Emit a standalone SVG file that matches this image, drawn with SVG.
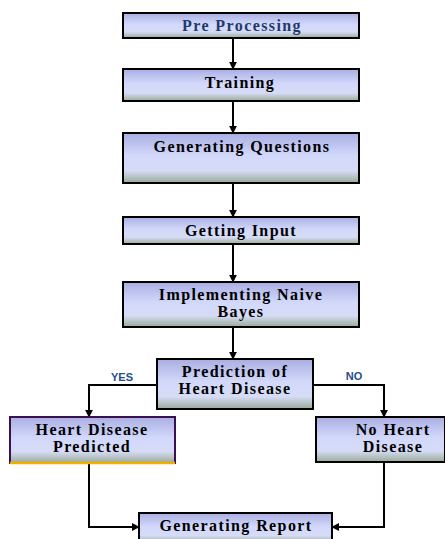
<svg xmlns="http://www.w3.org/2000/svg" width="445" height="539" viewBox="0 0 445 539">
<defs>
<linearGradient id="g" x1="0" y1="0" x2="0" y2="1">
<stop offset="0" stop-color="#a9aee2"/>
<stop offset="0.45" stop-color="#d2d8fa"/>
<stop offset="0.75" stop-color="#d6dcf6"/>
<stop offset="1" stop-color="#9aaa98"/>
</linearGradient>
<marker id="a" viewBox="0 0 10 10" refX="9" refY="5" markerWidth="4" markerHeight="4" orient="auto" markerUnits="strokeWidth">
<path d="M0,0 L10,5 L0,10 z" fill="#000"/>
</marker>
<style>
.box{fill:url(#g);stroke:#000;stroke-width:2}
.t{font-family:"Liberation Serif","Times New Roman",serif;font-weight:bold;font-size:16px;letter-spacing:1.4px;fill:#000;text-anchor:middle}
.lbl{font-family:"Liberation Sans",Arial,sans-serif;font-weight:bold;font-size:11px;fill:#1f4e8c;text-anchor:middle}
.c{fill:none;stroke:#000;stroke-width:2;marker-end:url(#a)}
</style>
</defs>
<rect width="445" height="539" fill="#fff"/>
<g id="connectors">
<line class="c" x1="233" y1="38" x2="233" y2="69"/>
<line class="c" x1="233" y1="101" x2="233" y2="133"/>
<line class="c" x1="233" y1="184" x2="233" y2="217"/>
<line class="c" x1="233" y1="245" x2="233" y2="282"/>
<line class="c" x1="233" y1="328" x2="233" y2="359"/>
<polyline class="c" points="157,385 89,385 89,417"/>
<polyline class="c" points="313,385 384,385 384,417"/>
<polyline class="c" points="89,463 89,527 139,527"/>
<polyline class="c" points="384,462 384,527 332,527"/>
<text class="lbl" x="122" y="381">YES</text>
<text class="lbl" x="354" y="380">NO</text>
</g>
<g id="pre">
<rect class="box" x="123" y="13" width="236" height="25"/>
<text class="t" x="242" y="31" style="fill:#1f3a6e">Pre Processing</text>
</g>
<g id="training">
<rect class="box" x="123" y="69" width="236" height="32"/>
<text class="t" x="240" y="88">Training</text>
</g>
<g id="questions">
<rect class="box" x="123" y="133" width="236" height="50"/>
<text class="t" x="242" y="152">Generating Questions</text>
</g>
<g id="input">
<rect class="box" x="123" y="217" width="236" height="27"/>
<text class="t" x="241" y="236">Getting Input</text>
</g>
<g id="bayes">
<rect class="box" x="123" y="282" width="236" height="45"/>
<text class="t" x="241" y="300">Implementing Naive</text>
<text class="t" x="241" y="317">Bayes</text>
</g>
<g id="prediction">
<rect class="box" x="157" y="359" width="156" height="50"/>
<text class="t" x="235" y="377">Prediction of</text>
<text class="t" x="235" y="394">Heart Disease</text>
</g>
<g id="yes">
<rect class="box" x="10" y="417" width="165" height="46" style="stroke:#3a1050"/>
<line x1="10" y1="463" x2="175" y2="463" stroke="#f0b000" stroke-width="2.5"/>
<text class="t" x="92" y="435">Heart Disease</text>
<text class="t" x="92" y="452">Predicted</text>
</g>
<g id="no">
<rect class="box" x="316" y="417" width="129" height="45"/>
<text class="t" x="393" y="435">No Heart</text>
<text class="t" x="393" y="452">Disease</text>
</g>
<g id="report">
<rect class="box" x="139" y="513" width="193" height="30"/>
<text class="t" x="236" y="531">Generating Report</text>
</g>
</svg>
